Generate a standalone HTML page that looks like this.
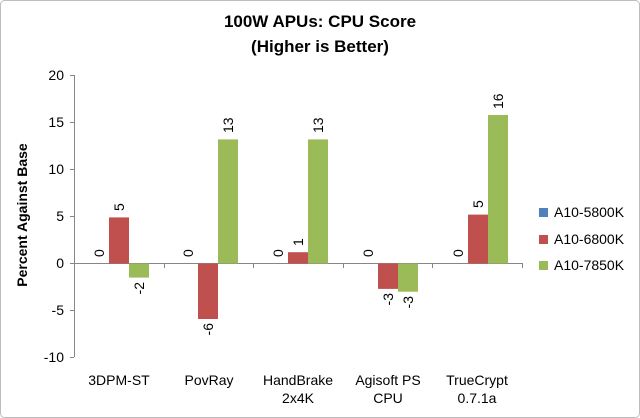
<!DOCTYPE html>
<html><head><meta charset="utf-8"><style>
html,body{margin:0;padding:0;background:#fff}
svg{display:block;font-family:"Liberation Sans","DejaVu Sans",sans-serif}
</style></head><body>
<svg width="640" height="418" viewBox="0 0 640 418" xmlns="http://www.w3.org/2000/svg">
<rect x="0.5" y="0.5" width="639" height="417" rx="4" fill="#fff" stroke="#bdbdbd"/>
<text x="320" y="27" text-anchor="middle" font-size="17" font-weight="bold" fill="#000">100W APUs: CPU Score</text>
<text x="320" y="52" text-anchor="middle" font-size="17" font-weight="bold" fill="#000">(Higher is Better)</text>
<text transform="translate(27,215) rotate(-90)" text-anchor="middle" font-size="14" font-weight="bold">Percent Against Base</text>
<g stroke="#868686" stroke-width="1">
<line x1="74.5" y1="75" x2="74.5" y2="357"/>
<line x1="70" y1="75.5" x2="74" y2="75.5"/>
<line x1="70" y1="122.5" x2="74" y2="122.5"/>
<line x1="70" y1="169.5" x2="74" y2="169.5"/>
<line x1="70" y1="216.5" x2="74" y2="216.5"/>
<line x1="70" y1="263.5" x2="74" y2="263.5"/>
<line x1="70" y1="310.5" x2="74" y2="310.5"/>
<line x1="70" y1="357.5" x2="74" y2="357.5"/>
<line x1="74" y1="263.5" x2="522" y2="263.5"/>
<line x1="164.5" y1="263" x2="164.5" y2="268"/>
<line x1="253.5" y1="263" x2="253.5" y2="268"/>
<line x1="343.5" y1="263" x2="343.5" y2="268"/>
<line x1="432.5" y1="263" x2="432.5" y2="268"/>
<line x1="522.5" y1="263" x2="522.5" y2="268"/>
</g>
<g font-size="14" text-anchor="end" fill="#000">
<text x="64" y="80">20</text><text x="64" y="127">15</text><text x="64" y="174">10</text>
<text x="64" y="221">5</text><text x="64" y="268">0</text><text x="64" y="315">-5</text><text x="64" y="362">-10</text>
</g>
<!-- bars: zero at 263.5, 9.4 px/unit -->
<g>
<rect x="109" y="217.4" width="20" height="46.1" fill="#c0504d"/>
<rect x="129" y="263.5" width="20" height="14.1" fill="#9bbb59"/>
<rect x="198" y="263.5" width="20" height="55.5" fill="#c0504d"/>
<rect x="218" y="139.4" width="20" height="124.1" fill="#9bbb59"/>
<rect x="288" y="252.2" width="20" height="11.3" fill="#c0504d"/>
<rect x="308" y="139.4" width="20" height="124.1" fill="#9bbb59"/>
<rect x="378" y="263.5" width="20" height="25.4" fill="#c0504d"/>
<rect x="398" y="263.5" width="20" height="28.2" fill="#9bbb59"/>
<rect x="468" y="214.6" width="20" height="48.9" fill="#c0504d"/>
<rect x="488" y="115" width="20" height="148.5" fill="#9bbb59"/>
</g>
<g font-size="14" fill="#000">
<text transform="translate(104,257) rotate(-90)">0</text>
<text transform="translate(124,211) rotate(-90)">5</text>
<text transform="translate(144,282) rotate(-90)" text-anchor="end">-2</text>
<text transform="translate(193,257) rotate(-90)">0</text>
<text transform="translate(213,323) rotate(-90)" text-anchor="end">-6</text>
<text transform="translate(233,133) rotate(-90)">13</text>
<text transform="translate(283,257) rotate(-90)">0</text>
<text transform="translate(303,246) rotate(-90)">1</text>
<text transform="translate(323,133) rotate(-90)">13</text>
<text transform="translate(373,257) rotate(-90)">0</text>
<text transform="translate(393,293) rotate(-90)" text-anchor="end">-3</text>
<text transform="translate(413,296) rotate(-90)" text-anchor="end">-3</text>
<text transform="translate(463,257) rotate(-90)">0</text>
<text transform="translate(483,208) rotate(-90)">5</text>
<text transform="translate(503,109) rotate(-90)">16</text>
</g>
<g font-size="14" text-anchor="middle" fill="#000">
<text x="119" y="385">3DPM-ST</text>
<text x="209" y="385">PovRay</text>
<text x="298" y="385">HandBrake</text>
<text x="298" y="403">2x4K</text>
<text x="388" y="385">Agisoft PS</text>
<text x="388" y="403">CPU</text>
<text x="477" y="385">TrueCrypt</text>
<text x="477" y="403">0.7.1a</text>
</g>
<g font-size="14" fill="#000">
<rect x="539" y="208" width="9" height="9" fill="#4f81bd"/><text x="554" y="217">A10-5800K</text>
<rect x="539" y="235" width="9" height="9" fill="#c0504d"/><text x="554" y="244">A10-6800K</text>
<rect x="539" y="261" width="9" height="9" fill="#9bbb59"/><text x="554" y="270">A10-7850K</text>
</g>
</svg>
</body></html>
